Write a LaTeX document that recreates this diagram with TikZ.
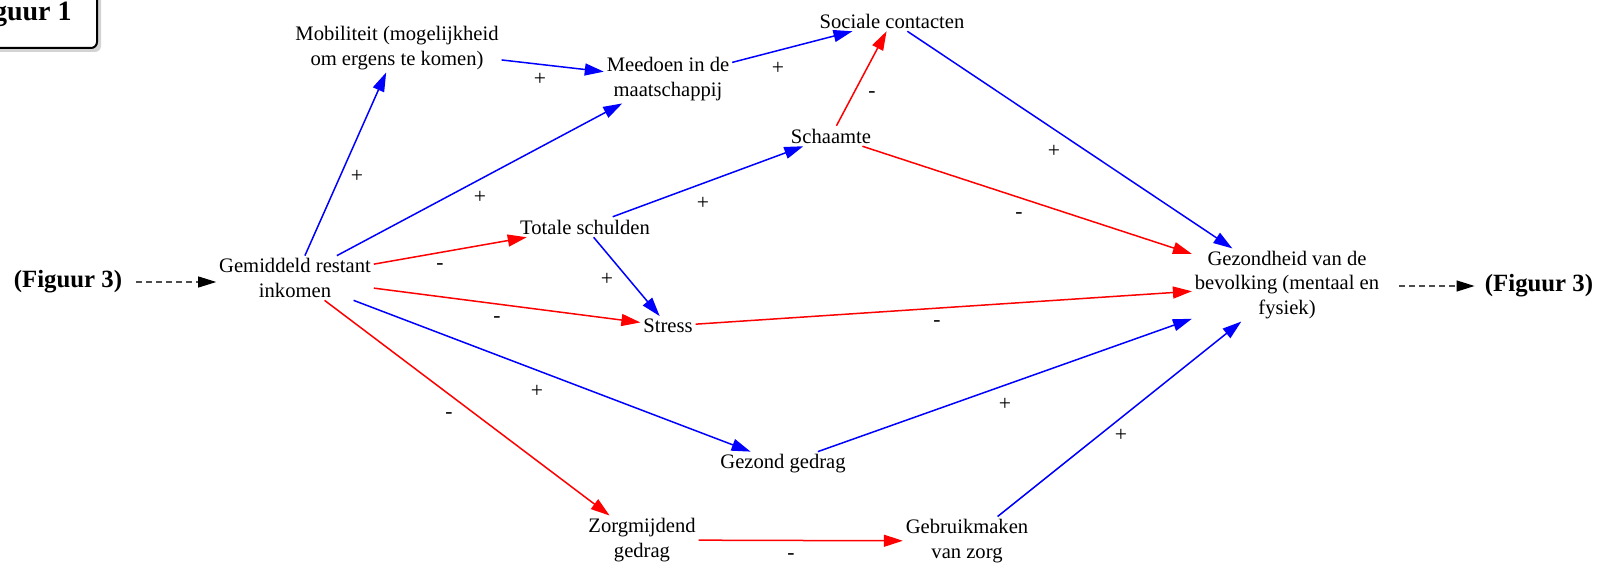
\documentclass[tikz,border=0pt]{standalone}
\usepackage{fontspec}
\setmainfont{Liberation Serif}
\usetikzlibrary{arrows.meta,shadows}
\tikzset{
  lbl/.style={font=\fontsize{10.3pt}{12.1pt}\selectfont, inner sep=0pt, outer sep=1.5pt, align=center},
  sgn/.style={font=\fontsize{10.8pt}{12.1pt}\selectfont, inner sep=0pt},
  fig/.style={font=\fontsize{12.4pt}{14pt}\selectfont\bfseries, inner sep=0pt},
  posarr/.style={draw={rgb,255:red,0;green,0;blue,255}, line width=0.75pt, -{Triangle[length=9.5pt,width=6pt]}},
  negarr/.style={draw={rgb,255:red,255;green,0;blue,0}, line width=0.75pt, -{Triangle[length=9.5pt,width=6pt]}},
  dsharr/.style={draw=black!70, line width=0.55pt, dash pattern=on 3pt off 2pt, -{Triangle[length=9pt,width=5.5pt,color=black]}},
}
\begin{document}
\begin{tikzpicture}[x=0.5pt,y=-0.5pt]
\useasboundingbox (0,0) rectangle (1598,566);
% Figuur 1 box
\draw[line width=1pt, rounded corners=3pt, fill=white,
  drop shadow={shadow xshift=2pt, shadow yshift=-2pt, opacity=0.35}]
  (-80,-30) rectangle (97,48);
\node[font=\fontsize{14pt}{16pt}\selectfont\bfseries, inner sep=0pt, anchor=base east] (fig1) at (72,21) {Figuur 1};

% nodes
\node[lbl] (gem) at (295,278) {Gemiddeld restant\\inkomen};
\node[lbl] (mob) at (397,48) {Mobiliteit (mogelijkheid\\om ergens te komen)};
\node[lbl] (mee) at (668,79) {Meedoen in de\\maatschappij};
\node[lbl] (soc) at (892,21) {Sociale contacten};
\node[lbl] (sch) at (831,136) {Schaamte};
\node[lbl] (tot) at (585,227) {Totale schulden};
\node[lbl] (str) at (668,326) {Stress};
\node[lbl] (gez) at (783,464) {Gezond gedrag};
\node[lbl] (zor) at (642,540) {Zorgmijdend\\gedrag};
\node[lbl] (geb) at (967,541) {Gebruikmaken\\van zorg};
\node[lbl] (gzh) at (1287,285) {Gezondheid van de\\bevolking (mentaal en\\fysiek)};
\node[fig] (fl) at (68,282) {(Figuur 3)};
\node[fig] (fr) at (1539,286) {(Figuur 3)};

% connectors
\draw[posarr] (gem) -- (mob);
\draw[posarr] (gem) -- (mee);
\draw[negarr] (gem) -- (tot);
\draw[negarr] (gem) -- (str);
\draw[posarr] (gem) -- (gez);
\draw[negarr] (gem) -- (zor);
\draw[posarr] (mob) -- (mee);
\draw[posarr] (mee) -- (soc);
\draw[negarr] (sch) -- (soc);
\draw[posarr] (tot) -- (sch);
\draw[posarr] (tot) -- (str);
\draw[posarr] (soc) -- (gzh);
\draw[negarr] (sch) -- (gzh);
\draw[negarr] (str) -- (gzh);
\draw[posarr] (gez) -- (gzh);
\draw[negarr] (zor) -- (geb);
\draw[posarr] (geb) -- (gzh);
\draw[dsharr] (fl.east) ++(14,0) coordinate (fla) -- (gem.west |- fl.east);
\draw[dsharr] (gzh.east |- fr.west) ++(17,0) coordinate (frb) -- ([xshift=-5pt]fr.west);

% signs
\node[sgn] (s1) at (357,176) {+};
\node[sgn] (s2) at (480,197) {+};
\node[sgn] (s3) at (540,79) {+};
\node[sgn] (s4) at (778,68) {+};
\node[sgn] (s5) at (872,95) {-};
\node[sgn] (s6) at (703,203) {+};
\node[sgn] (s7) at (440,267) {-};
\node[sgn] (s8) at (607,279) {+};
\node[sgn] (s9) at (497,320) {-};
\node[sgn] (s10) at (537,391) {+};
\node[sgn] (s11) at (449,416) {-};
\node[sgn] (s12) at (1054,151) {+};
\node[sgn] (s13) at (1019,216) {-};
\node[sgn] (s14) at (937,324) {-};
\node[sgn] (s15) at (1005,404) {+};
\node[sgn] (s16) at (1121,435) {+};
\node[sgn] (s17) at (791,557) {-};
\end{tikzpicture}
\end{document}
